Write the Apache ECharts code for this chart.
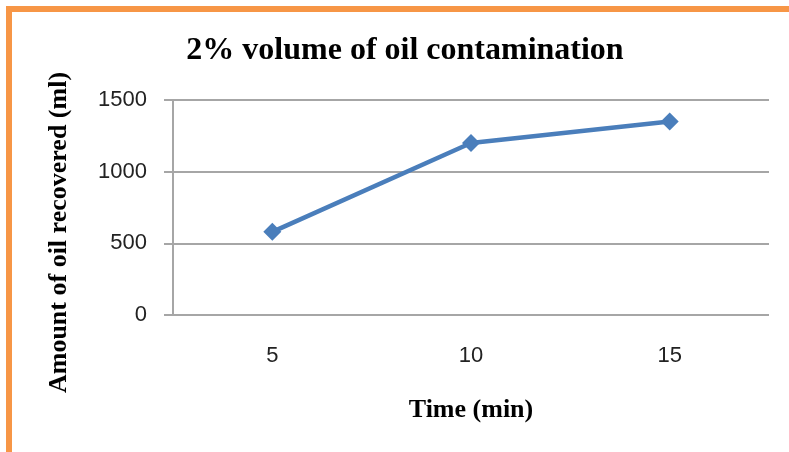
<!DOCTYPE html>
<html><head><meta charset="utf-8">
<script src="https://cdn.jsdelivr.net/npm/echarts@6/dist/echarts.min.js"></script>
<style>
html,body{margin:0;padding:0;background:#fff;overflow:hidden;}
#frame{position:absolute;left:6px;top:6px;width:900px;height:600px;border-left:6px solid #f79646;border-top:6px solid #f79646;box-sizing:border-box;}
#chart{position:absolute;left:0;top:0;width:789px;height:452px;}
</style></head>
<body>
<div id="frame"></div>
<div id="chart"></div>
<script>
var categories = ['5', '10', '15'];
var oilRecovered = [580, 1200, 1350];
var yTicks = [0, 500, 1000, 1500];

var chart = echarts.init(document.getElementById('chart'), null, {renderer: 'canvas'});
chart.setOption({
  animation: false,
  backgroundColor: 'transparent',
  title: {
    text: '2% volume of oil contamination',
    left: 400, top: 30, textAlign: 'center',
    textStyle: {fontFamily: 'Liberation Serif', fontWeight: 'bold', fontSize: 32, color: '#000'}
  },
  grid: {left: 173, right: 20, top: 100, bottom: 137},
  xAxis: {
    type: 'category', data: categories, boundaryGap: true,
    name: 'Time (min)', nameLocation: 'middle', nameGap: 82,
    nameTextStyle: {fontFamily: 'Liberation Serif', fontWeight: 'bold', fontSize: 26, color: '#000'},
    axisLine: {show: false},
    axisTick: {show: false},
    axisLabel: {fontFamily: 'Liberation Sans', fontSize: 22, color: '#222', margin: 30}
  },
  yAxis: {
    type: 'value', min: 0, max: 1500, interval: 500,
    name: 'Amount of oil recovered (ml)', nameLocation: 'middle', nameGap: 101, nameRotate: 90,
    nameTextStyle: {fontFamily: 'Liberation Serif', fontWeight: 'bold', fontSize: 26, color: '#000', padding: [0, 50, 0, 0]},
    axisLine: {show: true, lineStyle: {color: '#a6a6a6', width: 2}},
    axisTick: {show: true, inside: false, length: 9, lineStyle: {color: '#a6a6a6', width: 2}},
    splitLine: {show: true, lineStyle: {color: '#a6a6a6', width: 2}},
    axisLabel: {fontFamily: 'Liberation Sans', fontSize: 22, color: '#222', margin: 26,
      formatter: function (v) { return yTicks.indexOf(v) >= 0 ? String(v) : ''; }}
  },
  series: [{
    type: 'line', data: oilRecovered,
    lineStyle: {color: '#4a7ebb', width: 4.5},
    itemStyle: {color: '#4a7ebb'},
    symbol: 'diamond', symbolSize: 18, showSymbol: true
  }]
});
</script>
</body></html>
